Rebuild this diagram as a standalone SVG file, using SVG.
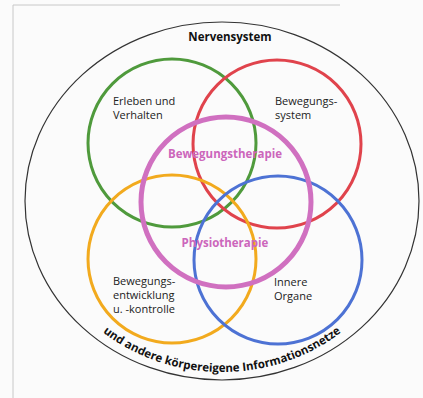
<svg xmlns="http://www.w3.org/2000/svg" width="423" height="398" viewBox="0 0 423 398">
<style>
.ring{fill:none;stroke-width:3}
.lbl{font-family:"Open Sans","Liberation Sans",sans-serif;font-size:11px;fill:#222}
.pk{font-family:"Open Sans","Liberation Sans",sans-serif;font-size:11.5px;font-weight:bold;fill:#cc66bb;text-anchor:middle}
.bd{font-family:"Open Sans","Liberation Sans",sans-serif;font-weight:bold;fill:#111}
</style>
<defs>
<path id="arc" d="M 36 201 A 186 171 0 0 0 408 201"/>
</defs>
<rect width="423" height="398" fill="#fbfbfb"/>
<path d="M13 398 V5 H340" fill="none" stroke="#c8c8c8" stroke-width="1"/>
<g id="outer">
<ellipse cx="222" cy="201" rx="197" ry="179" fill="none" stroke="#333" stroke-width="1.2"/>
<text class="bd" x="230" y="41" font-size="11.5" text-anchor="middle">Nervensystem</text>
<text class="bd" font-size="11.5"><textPath href="#arc" startOffset="50%" text-anchor="middle">und andere körpereigene Informationsnetze</textPath></text>
</g>
<g id="erleben">
<circle class="ring" cx="172" cy="143" r="84" stroke="#4f9a3c"/>
<text class="lbl" x="113" y="105">Erleben und</text>
<text class="lbl" x="113" y="119">Verhalten</text>
</g>
<g id="bewegungssystem">
<circle class="ring" cx="277" cy="144" r="84" stroke="#e0434c"/>
<text class="lbl" x="275" y="105">Bewegungs-</text>
<text class="lbl" x="275" y="119">system</text>
</g>
<g id="entwicklung">
<circle class="ring" cx="172" cy="259" r="84" stroke="#f2aa1e"/>
<text class="lbl" x="113" y="285">Bewegungs-</text>
<text class="lbl" x="113" y="299">entwicklung</text>
<text class="lbl" x="113" y="313">u. -kontrolle</text>
</g>
<g id="organe">
<circle class="ring" cx="278" cy="260" r="84" stroke="#4d72d4"/>
<text class="lbl" x="274" y="286">Innere</text>
<text class="lbl" x="274" y="300">Organe</text>
</g>
<g id="therapie">
<circle cx="226" cy="202" r="85" fill="none" stroke="#d070c0" stroke-width="5"/>
<text class="pk" x="225" y="158">Bewegungstherapie</text>
<text class="pk" x="225" y="247">Physiotherapie</text>
</g>
</svg>
